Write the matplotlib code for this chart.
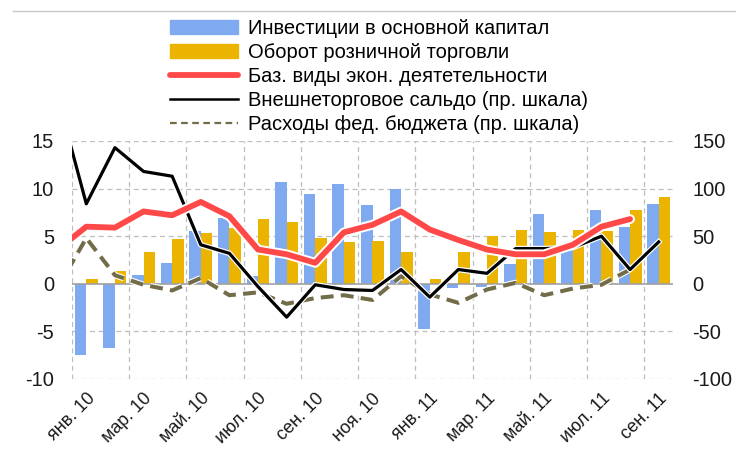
import numpy as np
import matplotlib.pyplot as plt
import matplotlib.patheffects as pe
from matplotlib.lines import Line2D

plt.rcParams['font.family'] = ['Liberation Sans', 'DejaVu Sans']
plt.rcParams['axes.unicode_minus'] = False

# Месяцы (янв.10 - сен.11)
months = ['янв. 10', 'фев. 10', 'мар. 10', 'апр. 10', 'май. 10', 'июн. 10', 'июл. 10',
          'авг. 10', 'сен. 10', 'окт. 10', 'ноя. 10', 'дек. 10', 'янв. 11', 'фев. 11',
          'мар. 11', 'апр. 11', 'май. 11', 'июн. 11', 'июл. 11', 'авг. 11', 'сен. 11']

# Столбцы (левая шкала)
invest = [-7.5, -6.7, 0.9, 2.2, 5.5, 6.9, 0.8, 10.7, 9.4, 10.5, 8.3, 10.0,
          -4.7, -0.4, -0.3, 2.1, 7.3, 3.6, 7.8, 6.0, 8.4]
retail = [0.5, 1.3, 3.3, 4.7, 5.3, 5.9, 6.8, 6.5, 4.8, 4.4, 4.5, 3.3,
          0.5, 3.3, 5.0, 5.6, 5.4, 5.6, 5.5, 7.7, 9.1]

# Линии: первое значение - дек.09 (за пределами оси)
base = [3.6, 6.0, 5.9, 7.6, 7.2, 8.6, 7.1, 3.6, 3.1, 2.2, 5.4, 6.2, 7.6,
        5.7, 4.6, 3.6, 3.1, 3.1, 4.1, 6.0, 6.8]
trade = [196, 84, 143, 118, 113, 41, 32, -3, -35, -1, -6, -7, 15,
         -14, 15, 11, 37, 37, 38, 50, 15, 44]
budget = [-4, 48, 9, -1, -7, 6, -12, -9, -21, -15, -12, -17, 8,
          -11, -20, -6, 1, -12, -5, -1, 15]

x = np.arange(len(months))
xl = np.arange(-1, 20)    # линии до авг.11
xt = np.arange(-1, 21)    # внешнеторговое сальдо до сен.11

fig = plt.figure(figsize=(7.36, 4.53), dpi=100)
ax = fig.add_axes([72/736, 1 - 379/453, 601/736, 238/453])
ax2 = ax.twinx()

w = 0.4
ax.bar(x - w/2, invest, w, color='#80AAF0', zorder=2)
ax.bar(x + w/2, retail, w, color='#EBB400', zorder=2)
ax.axhline(0, color='#A0A0A0', lw=1.2, zorder=3)

ax2.plot(xl, budget, color='#736C48', lw=2.9, ls=(0, (3.2, 1.8)), zorder=4,
         path_effects=[pe.Stroke(linewidth=4.5, foreground='white'), pe.Normal()])
ax2.plot(xt, trade, color='black', lw=2.3, zorder=5,
         path_effects=[pe.Stroke(linewidth=4, foreground='white'), pe.Normal()])
ax2.plot(xl, np.array(base) * 10, color='#FF4848', lw=4.2,
         solid_capstyle='round', zorder=6,
         path_effects=[pe.Stroke(linewidth=7, foreground='white'), pe.Normal()])

ax.set_ylim(-10, 15)
ax2.set_ylim(-100, 150)
ax.set_xlim(-0.5, 20.5)
ax.set_yticks([-10, -5, 0, 5, 10, 15])
ax2.set_yticks([-100, -50, 0, 50, 100, 150])
ax.set_xticks(x[::2])
ax.set_xticklabels(months[::2], rotation=45, ha='right', rotation_mode='anchor')

# сетка
for yv in [-10, -5, 5, 10, 15]:
    ax.axhline(yv, color='#BEBEBE', lw=0.9, ls=(0, (4, 3)), zorder=0)
for xv in np.arange(-0.5, 21, 2):
    ax.axvline(xv, color='#BEBEBE', lw=0.9, ls=(0, (4, 3)), zorder=0)

for a in (ax, ax2):
    for s in a.spines.values():
        s.set_visible(False)
    a.tick_params(length=0, labelsize=14.5, colors='#1A1A1A')
ax.tick_params(axis='y', pad=13)
ax2.tick_params(axis='y', pad=14)
ax.tick_params(axis='x', labelsize=13, pad=8)

handles = [plt.Rectangle((0, 0), 1, 1, color='#80AAF0'),
           plt.Rectangle((0, 0), 1, 1, color='#EBB400'),
           Line2D([], [], color='#FF4848', lw=4.2, solid_capstyle='round'),
           Line2D([], [], color='black', lw=1.8),
           Line2D([], [], color='#736C48', lw=1.6, ls=(0, (3, 2)))]
labels = ['Инвестиции в основной капитал', 'Оборот розничной торговли',
          'Баз. виды экон. деятетельности', 'Внешнеторговое сальдо (пр. шкала)',
          'Расходы фед. бюджета (пр. шкала)']
fig.legend(handles, labels, loc='upper left', bbox_to_anchor=(170/736, 1 - 19/453),
           frameon=False, fontsize=14.5, handlelength=3.4, handletextpad=0.45,
           labelspacing=0.25, borderpad=0, borderaxespad=0)

fig.add_artist(Line2D([13/736, 1], [1 - 11/453, 1 - 11/453], color='#C8C8C8', lw=1))

fig.savefig('out.png', dpi=100)
